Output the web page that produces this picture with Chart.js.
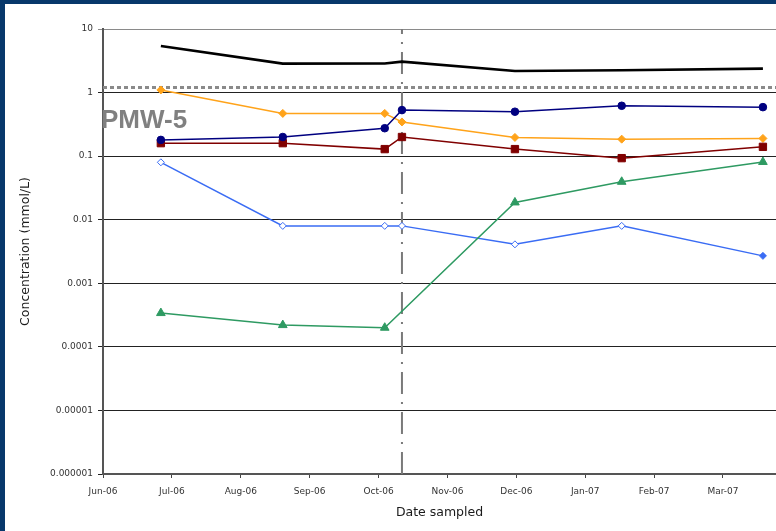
<!DOCTYPE html>
<html lang="en">
<head>
    <meta charset="UTF-8">
    <title>PMW-5 Concentration</title>
    <script src="https://cdn.jsdelivr.net/npm/chart.js"></script>
    <style>
        body {
            margin: 0;
            background-color: #ffffff;
            overflow: hidden;
        }

        .wrap {
            position: relative;
            width: 776px;
            height: 531px;
        }

        canvas {
            position: absolute;
            left: 0;
            top: 0;
        }

        .frame-top {
            position: absolute;
            left: 0;
            top: 0;
            width: 776px;
            height: 4px;
            background-color: #07386b;
        }

        .frame-left {
            position: absolute;
            left: 0;
            top: 0;
            width: 5px;
            height: 531px;
            background-color: #07386b;
        }

        .well-name {
            position: absolute;
            left: 101px;
            top: 106px;
            font-family: "Liberation Sans", Arial, sans-serif;
            font-weight: bold;
            font-size: 26px;
            line-height: 26px;
            color: #808080;
        }
    </style>
</head>
<body>
    <div class="wrap">
        <canvas id="concChart" width="776" height="531"></canvas>
        <div class="frame-top"></div>
        <div class="frame-left"></div>
        <div class="well-name">PMW-5</div>
    </div>

    <script>
        // months counted from Jun-06
        const monthLabels = ['Jun-06', 'Jul-06', 'Aug-06', 'Sep-06', 'Oct-06', 'Nov-06', 'Dec-06', 'Jan-07', 'Feb-07', 'Mar-07'];
        const decadeValues = [0.000001, 0.00001, 0.0001, 0.001, 0.01, 0.1, 1, 10];
        const decadeLabels = ['0.000001', '0.00001', '0.0001', '0.001', '0.01', '0.1', '1', '10'];

        const sampleMonths = [0.84, 2.61, 4.09, 4.34, 5.98, 7.53, 9.58];
        const blackValues = [5.4, 2.85, 2.87, 3.07, 2.18, 2.24, 2.38];
        const orangeValues = [1.1, 0.47, 0.47, 0.345, 0.197, 0.185, 0.19];
        const navyValues = [0.18, 0.2, 0.275, 0.53, 0.5, 0.62, 0.59];
        const maroonValues = [0.16, 0.16, 0.129, 0.2, 0.129, 0.093, 0.14];
        const blueValues = [0.08, 0.008, 0.008, 0.008, 0.0041, 0.008, 0.0027];
        const greenValues = [0.00034, 0.00022, 0.0002, null, 0.0187, 0.0395, 0.081];

        // reference lines
        const limitValue = 1.2;
        const limitMonths = [0, 9.77];
        const eventMonth = 4.34;
        const eventRange = [0.000001, 10];

        const xMax = 9.77;

        function toPoints(values) {
            return values.map((v, i) => ({ x: sampleMonths[i], y: v }));
        }

        function series(values, color, style, extra) {
            return Object.assign({
                data: toPoints(values),
                borderColor: color,
                backgroundColor: color,
                borderWidth: 1.5,
                pointStyle: style,
                pointRadius: 4,
                pointBorderColor: color,
                pointBackgroundColor: color,
                pointBorderWidth: 1,
                tension: 0,
                spanGaps: true
            }, extra || {});
        }

        const datasets = [
            series(navyValues, '#000080', 'circle', { pointRadius: 3.8 }),
            series(maroonValues, '#800000', 'rect', { pointRadius: 5.2 }),
            series(orangeValues, '#ffa31a', 'rectRot', { pointRadius: 4 }),
            series(greenValues, '#2e9a62', 'triangle', { pointRadius: 5 }),
            series(blueValues, '#3a6cf4', 'rectRot', {
                pointRadius: 3.5,
                pointBackgroundColor: blueValues.map((v, i) => i === blueValues.length - 1 ? '#3a6cf4' : '#ffffff')
            }),
            series(blackValues, '#000000', 'circle', { borderWidth: 2.6, pointRadius: 0 }),
            {
                data: limitMonths.map(m => ({ x: m, y: limitValue })),
                borderColor: '#8a8a8a',
                borderWidth: 3,
                borderDash: [4, 3],
                pointRadius: 0
            },
            {
                data: eventRange.map(v => ({ x: eventMonth, y: v })),
                borderColor: '#7a7a7a',
                borderWidth: 2,
                borderDash: [22, 8, 2, 8],
                pointRadius: 0
            }
        ];

        const ctx = document.getElementById('concChart').getContext('2d');
        new Chart(ctx, {
            type: 'line',
            data: { datasets: datasets },
            options: {
                responsive: false,
                animation: false,
                layout: {
                    autoPadding: false,
                    padding: { top: 29, right: 0, bottom: 0, left: 0 }
                },
                plugins: {
                    legend: { display: false },
                    tooltip: { enabled: false }
                },
                scales: {
                    x: {
                        type: 'linear',
                        min: 0,
                        max: xMax,
                        afterFit: scale => {
                            scale.height = 57;
                            scale.paddingLeft = 0;
                            scale.paddingRight = 0;
                        },
                        afterBuildTicks: scale => {
                            scale.ticks = monthLabels.map((_, i) => ({ value: i }));
                        },
                        ticks: {
                            callback: value => monthLabels[value],
                            color: '#333333',
                            font: { family: 'DejaVu Sans', size: 9 },
                            padding: 8,
                            maxRotation: 0,
                            autoSkip: false
                        },
                        grid: {
                            drawOnChartArea: false,
                            drawTicks: true,
                            tickLength: 4,
                            color: '#444444'
                        },
                        border: { display: true, color: '#555555', width: 2 },
                        title: {
                            display: true,
                            text: 'Date sampled',
                            color: '#1a1a1a',
                            font: { family: 'DejaVu Sans', size: 12.5 },
                            padding: { top: 0, bottom: 11 }
                        }
                    },
                    y: {
                        type: 'logarithmic',
                        min: 0.000001,
                        max: 10,
                        afterFit: scale => {
                            scale.width = 103;
                            scale.paddingTop = 0;
                            scale.paddingBottom = 0;
                        },
                        afterBuildTicks: scale => {
                            scale.ticks = decadeValues.map(v => ({ value: v }));
                        },
                        ticks: {
                            callback: (value, index) => decadeLabels[index],
                            color: '#333333',
                            font: { family: 'DejaVu Sans', size: 9 },
                            padding: 5
                        },
                        grid: {
                            color: ctx => ctx.tick && ctx.tick.value === 10 ? '#8a8a8a' : '#222222',
                            lineWidth: 1,
                            tickLength: 5
                        },
                        border: { display: true, color: '#555555', width: 2 },
                        title: {
                            display: true,
                            text: 'Concentration (mmol/L)',
                            color: '#1a1a1a',
                            font: { family: 'DejaVu Sans', size: 12.5 },
                            padding: { top: 18, bottom: 0 }
                        }
                    }
                }
            }
        });
    </script>
</body>
</html>
